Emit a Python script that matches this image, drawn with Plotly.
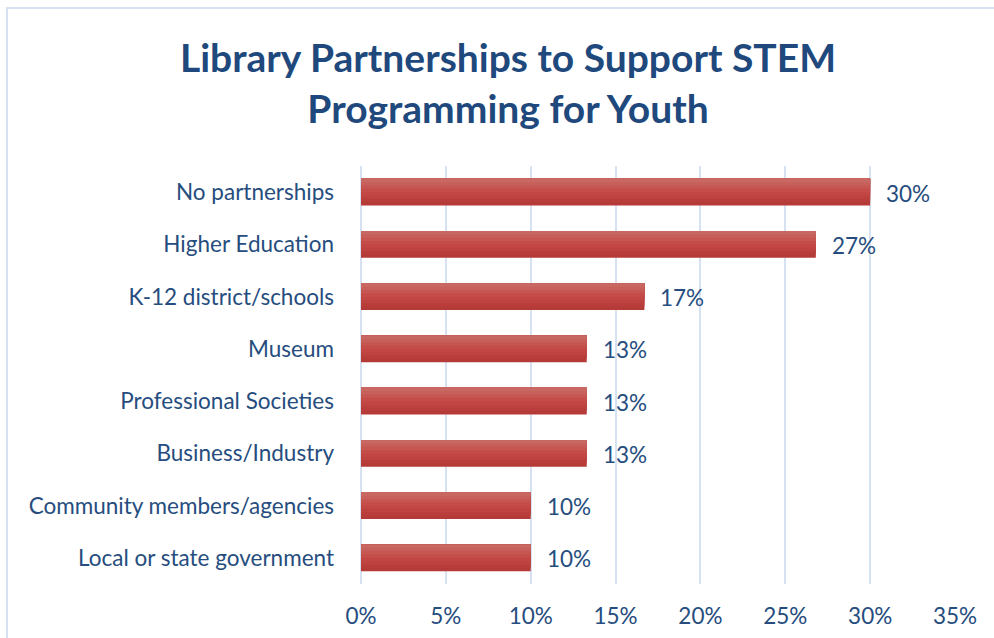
import plotly.graph_objects as go

# Share of libraries reporting each kind of STEM partnership
categories = [
    "No partnerships",
    "Higher Education",
    "K-12 district/schools",
    "Museum",
    "Professional Societies",
    "Business/Industry",
    "Community members/agencies",
    "Local or state government",
]
values = [30, 26.8, 16.7, 13.3, 13.3, 13.3, 10, 10]
x_ticks = [0, 5, 10, 15, 20, 25, 30, 35]
x_tick_labels = [f"{t}%" for t in x_ticks]

TITLE_COLOR = "#1f497d"
TEXT_COLOR = "#264d7e"
GRID_COLOR = "#d6e2f2"
FONT = "Lato"
LABEL_SIZE = 22.5

W, H = 994, 638
L, R, T, B = 361, 39, 166, 54

fig = go.Figure()

# Bars are built as nested layers anchored at the top edge: the darkest
# full-height bar first, then progressively shorter and lighter ones, giving
# a soft top-to-bottom shading without visible seams.
BAR_W = 0.51
shades = ["#b53b38", "#b93e3b", "#be423f", "#c24744", "#c54d49", "#c65652", "#c75f5a", "#c86862"]
n = len(shades)
for i, col in enumerate(shades):
    h = BAR_W * (n - i) / n
    fig.add_trace(go.Bar(
        x=values,
        y=categories,
        orientation="h",
        width=h,
        offset=-BAR_W / 2,
        marker=dict(color=col, line=dict(width=0)),
        hoverinfo="skip" if i else "x+y",
        showlegend=False,
    ))

# Value labels beside each bar
for cat, v in zip(categories, values):
    fig.add_annotation(
        x=v, y=cat, text=f"{v:.0f}%", showarrow=False,
        xanchor="left", yanchor="middle", xshift=14, yshift=-1,
        font=dict(family=FONT, size=LABEL_SIZE, color=TEXT_COLOR),
    )

# Light outline framing the chart
fig.add_shape(
    type="rect", xref="paper", yref="paper",
    x0=(7 - L) / (W - L - R), x1=(W + 40 - L) / (W - L - R),
    y0=-(B + 40) / (H - T - B), y1=1 + (T - 8) / (H - T - B),
    line=dict(color=GRID_COLOR, width=2), fillcolor="rgba(0,0,0,0)", layer="below",
)

fig.update_layout(
    width=W, height=H,
    margin=dict(l=L, r=R, t=T, b=B, autoexpand=False),
    paper_bgcolor="white", plot_bgcolor="white",
    barmode="overlay",
    title=dict(
        text="<b>Library Partnerships to Support STEM<br>Programming for Youth</b>",
        x=508 / W, xref="container", xanchor="center",
        y=1 - 72 / H, yanchor="middle", yref="container",
        font=dict(family=FONT, size=39, color=TITLE_COLOR),
    ),
    font=dict(family=FONT, size=LABEL_SIZE, color=TEXT_COLOR),
    xaxis=dict(
        range=[0, 35],
        tickvals=x_ticks, ticktext=x_tick_labels,
        showgrid=True, gridcolor=GRID_COLOR, gridwidth=2,
        zeroline=True, zerolinecolor=GRID_COLOR, zerolinewidth=2,
        showline=False, ticks="", ticklabelstandoff=16,
        tickfont=dict(family=FONT, size=LABEL_SIZE, color=TEXT_COLOR),
        automargin=False, fixedrange=True,
    ),
    yaxis=dict(
        categoryorder="array", categoryarray=categories,
        autorange="reversed",
        showgrid=False, zeroline=False, showline=False, ticks="",
        ticklabelstandoff=26,
        tickfont=dict(family=FONT, size=LABEL_SIZE, color=TEXT_COLOR),
        automargin=False, fixedrange=True,
    ),
)

fig.write_html("out.html")
